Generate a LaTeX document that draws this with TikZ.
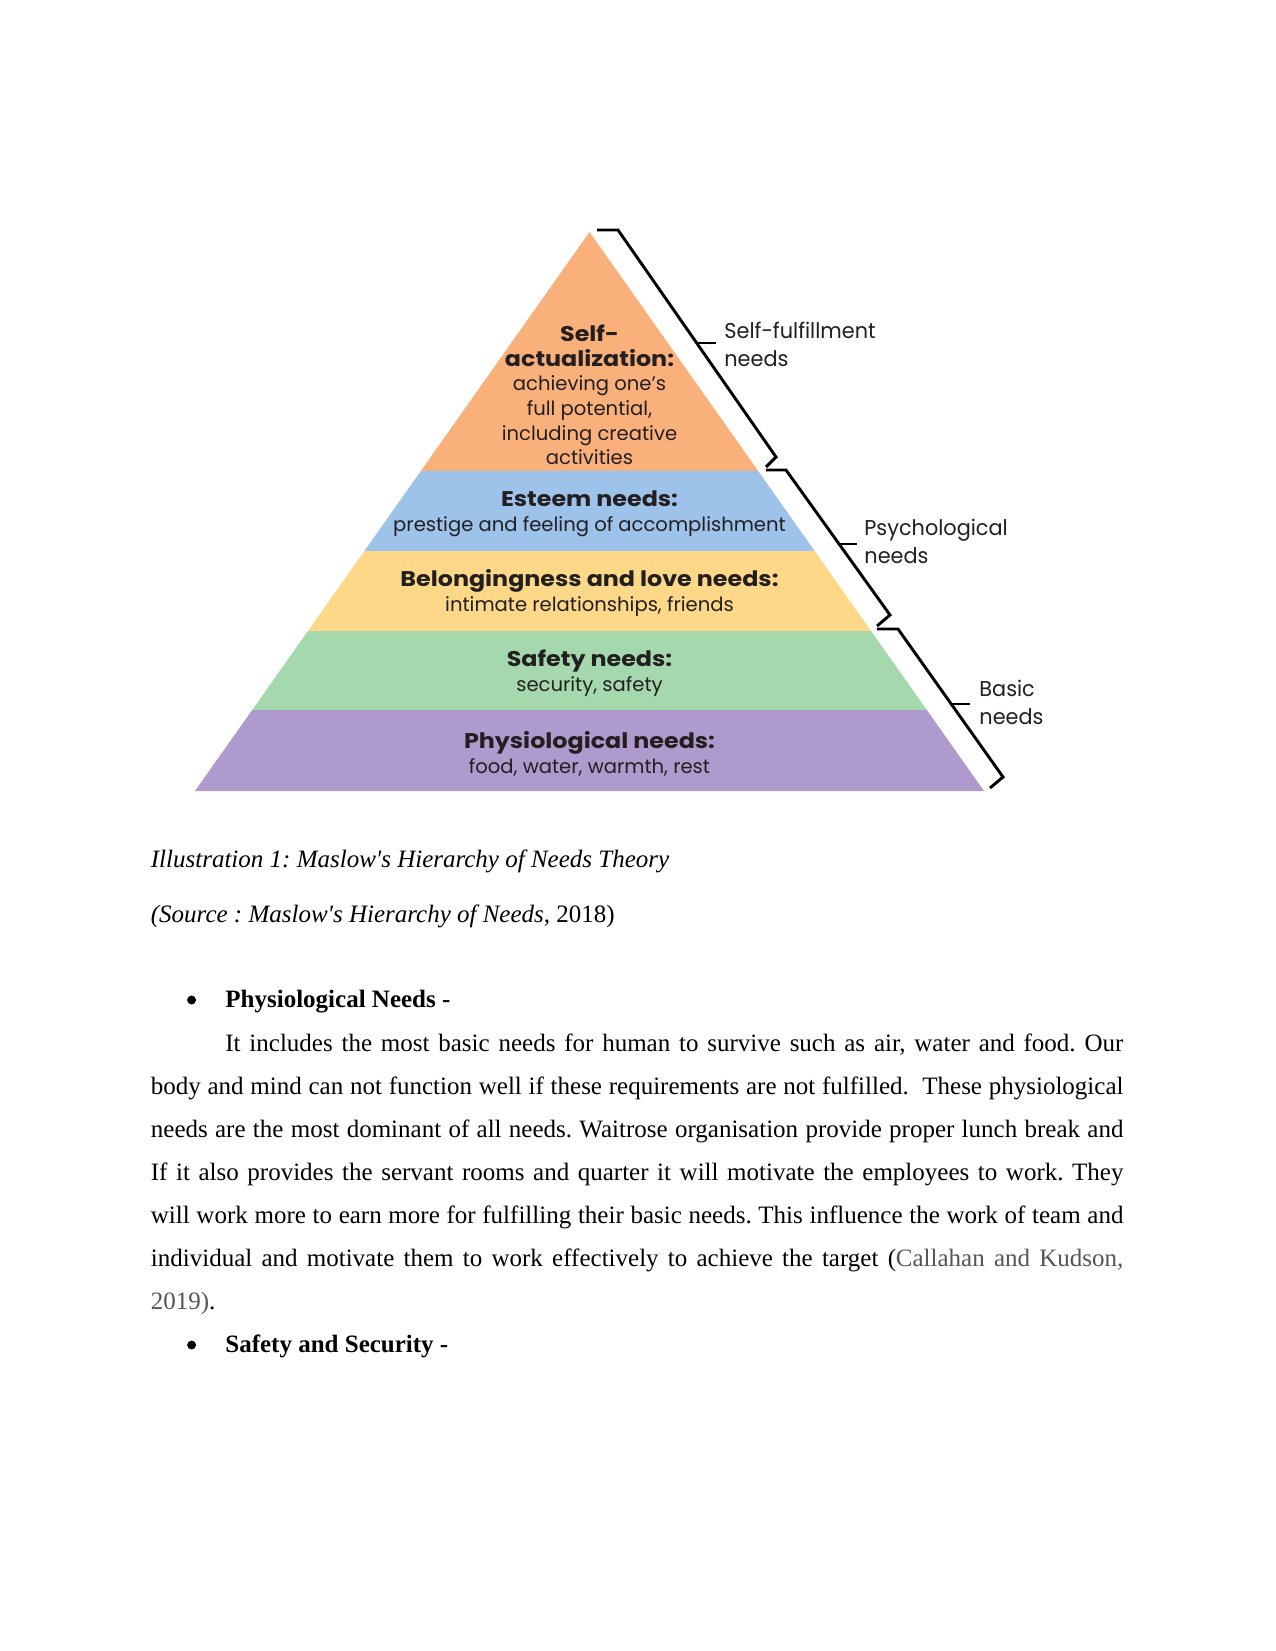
\documentclass[tikz,border=0pt]{standalone}
\usepackage{fontspec}
\setmainfont{Liberation Serif}
\newfontfamily\pop{Poppins}
\newfontfamily\popb[FakeStretch=1.12]{Poppins}
\newfontfamily\popl[FakeStretch=0.97]{Poppins}
\usetikzlibrary{calc}
\definecolor{cOrange}{HTML}{F9B07A}
\definecolor{cBlue}{HTML}{9DC3EA}
\definecolor{cYellow}{HTML}{FCD888}
\definecolor{cGreen}{HTML}{A5D8AD}
\definecolor{cPurple}{HTML}{AF9ACD}
\definecolor{cInk}{HTML}{231F20}
\definecolor{citegray}{HTML}{555555}
\newcommand{\hb}[1]{{\popb\bfseries\fontsize{10.2}{11.8}\selectfont #1}}
\tikzset{
  ptext/.style={align=center, text=cInk, inner sep=0pt, font=\pop\fontsize{9.4}{11.8}\selectfont},
  rlabel/.style={anchor=west, align=left, text=cInk, inner sep=0pt, font=\popl\fontsize{10.3}{13.4}\selectfont},
  brace/.style={draw=black, line width=1.4pt, line join=miter},
  bodyline/.style={anchor=base west, inner sep=0pt, font=\fontsize{12}{14}\selectfont\frenchspacing},
  bulletdot/.style={circle, fill=black, inner sep=0pt, minimum size=4.3pt},
}
\begin{document}
\begin{tikzpicture}[x=0.48pt,y=-0.48pt]
\useasboundingbox (0,0) rectangle (1275,1651);
\fill[white] (0,0) rectangle (1275,1651);
% pyramid geometry
\coordinate (apex) at (589.5,232);
\coordinate (bl) at (195,791);
\coordinate (br) at (984,791);
\foreach \n/\t in {a/0.4275,b/0.5707,c/0.7138,d/0.8551}{
  \coordinate (L\n) at ($(apex)!\t!(bl)$);
  \coordinate (R\n) at ($(apex)!\t!(br)$);
}
\fill[cOrange] (apex) -- (Ra) -- (La) -- cycle;
\fill[cBlue] (La) -- (Ra) -- (Rb) -- (Lb) -- cycle;
\fill[cYellow] (Lb) -- (Rb) -- (Rc) -- (Lc) -- cycle;
\fill[cGreen] (Lc) -- (Rc) -- (Rd) -- (Ld) -- cycle;
\fill[cPurple] (Ld) -- (Rd) -- (br) -- (bl) -- cycle;
% pyramid texts
\node[ptext] (selfact) at (589.5,395) {\hb{Self-}\\\hb{actualization:}\\achieving one’s\\full potential,\\including creative\\activities};
\node[ptext] (esteem) at (589.5,514) {\hb{Esteem needs:}\\prestige and feeling of accomplishment};
\node[ptext] (belong) at (589.5,593) {\hb{Belongingness and love needs:}\\intimate relationships, friends};
\node[ptext] (safety) at (589.5,673) {\hb{Safety needs:}\\security, safety};
\node[ptext] (physio) at (589.5,754) {\hb{Physiological needs:}\\food, water, warmth, rest};
% brackets
\coordinate (b1a) at (597,230); \coordinate (b1b) at (618,230);
\coordinate (b1c) at (776,457); \coordinate (b1d) at (766,467);
\coordinate (b2a) at (766,470); \coordinate (b2b) at (786,470);
\coordinate (b2c) at (890,615); \coordinate (b2d) at (877,626);
\coordinate (b3a) at (877,629); \coordinate (b3b) at (898,629);
\coordinate (b3c) at (1003,777); \coordinate (b3d) at (990,788);
\draw[brace] (b1a) -- (b1b) -- (b1c) -- (b1d);
\draw[brace] (b2a) -- (b2b) -- (b2c) -- (b2d);
\draw[brace] (b3a) -- (b3b) -- (b3c) -- (b3d);
\coordinate (t1a) at (697,343); \coordinate (t1b) at (716,343);
\coordinate (t2a) at (839,544); \coordinate (t2b) at (857,544);
\coordinate (t3a) at (951,704); \coordinate (t3b) at (970,704);
\draw[brace] (t1a) -- (t1b);
\draw[brace] (t2a) -- (t2b);
\draw[brace] (t3a) -- (t3b);
\node[rlabel] (lselff) at (724,344) {Self-fulfillment\\needs};
\node[rlabel] (lpsych) at (864,541) {Psychological\\needs};
\node[rlabel] (lbasic) at (979,702) {Basic\\needs};
% caption
\node[bodyline] (cap1) at (150.5,867) {\textit{Illustration 1: Maslow\textquotesingle s Hierarchy of Needs Theory}};
\node[bodyline] (cap2) at (150.5,922) {\textit{(Source : Maslow\textquotesingle s Hierarchy of Needs}, 2018)};
% bullet 1
\node[bulletdot] (bul1) at (191.6,1000) {};
\node[bodyline] (head1) at (225,1007) {\textbf{Physiological Needs -}};
\node[bodyline] (l1) at (225,1051) {\makebox[431pt][s]{It includes the most basic needs for human to survive such as air, water and food. Our}};
\node[bodyline] (l2) at (150.5,1094) {\makebox[466.8pt][s]{body and mind can not function well if these requirements are not fulfilled.\ \ These physiological}};
\node[bodyline] (l3) at (150.5,1137) {\makebox[466.8pt][s]{needs are the most dominant of all needs. Waitrose organisation provide proper lunch break and}};
\node[bodyline] (l4) at (150.5,1180) {\makebox[466.8pt][s]{If it also provides the servant rooms and quarter it will motivate the employees to work. They}};
\node[bodyline] (l5) at (150.5,1223) {\makebox[466.8pt][s]{will work more to earn more for fulfilling their basic needs. This influence the work of team and}};
\node[bodyline] (l6) at (150.5,1266) {\makebox[466.8pt][s]{individual and motivate them to work effectively to achieve the target (\textcolor{citegray}{Callahan and Kudson,}}};
\node[bodyline] (l7) at (150.5,1309) {\textcolor{citegray}{2019)}.};
% bullet 2
\node[bulletdot] (bul2) at (191.6,1345) {};
\node[bodyline] (head2) at (225,1352) {\textbf{Safety and Security -}};
\end{tikzpicture}
\end{document}
